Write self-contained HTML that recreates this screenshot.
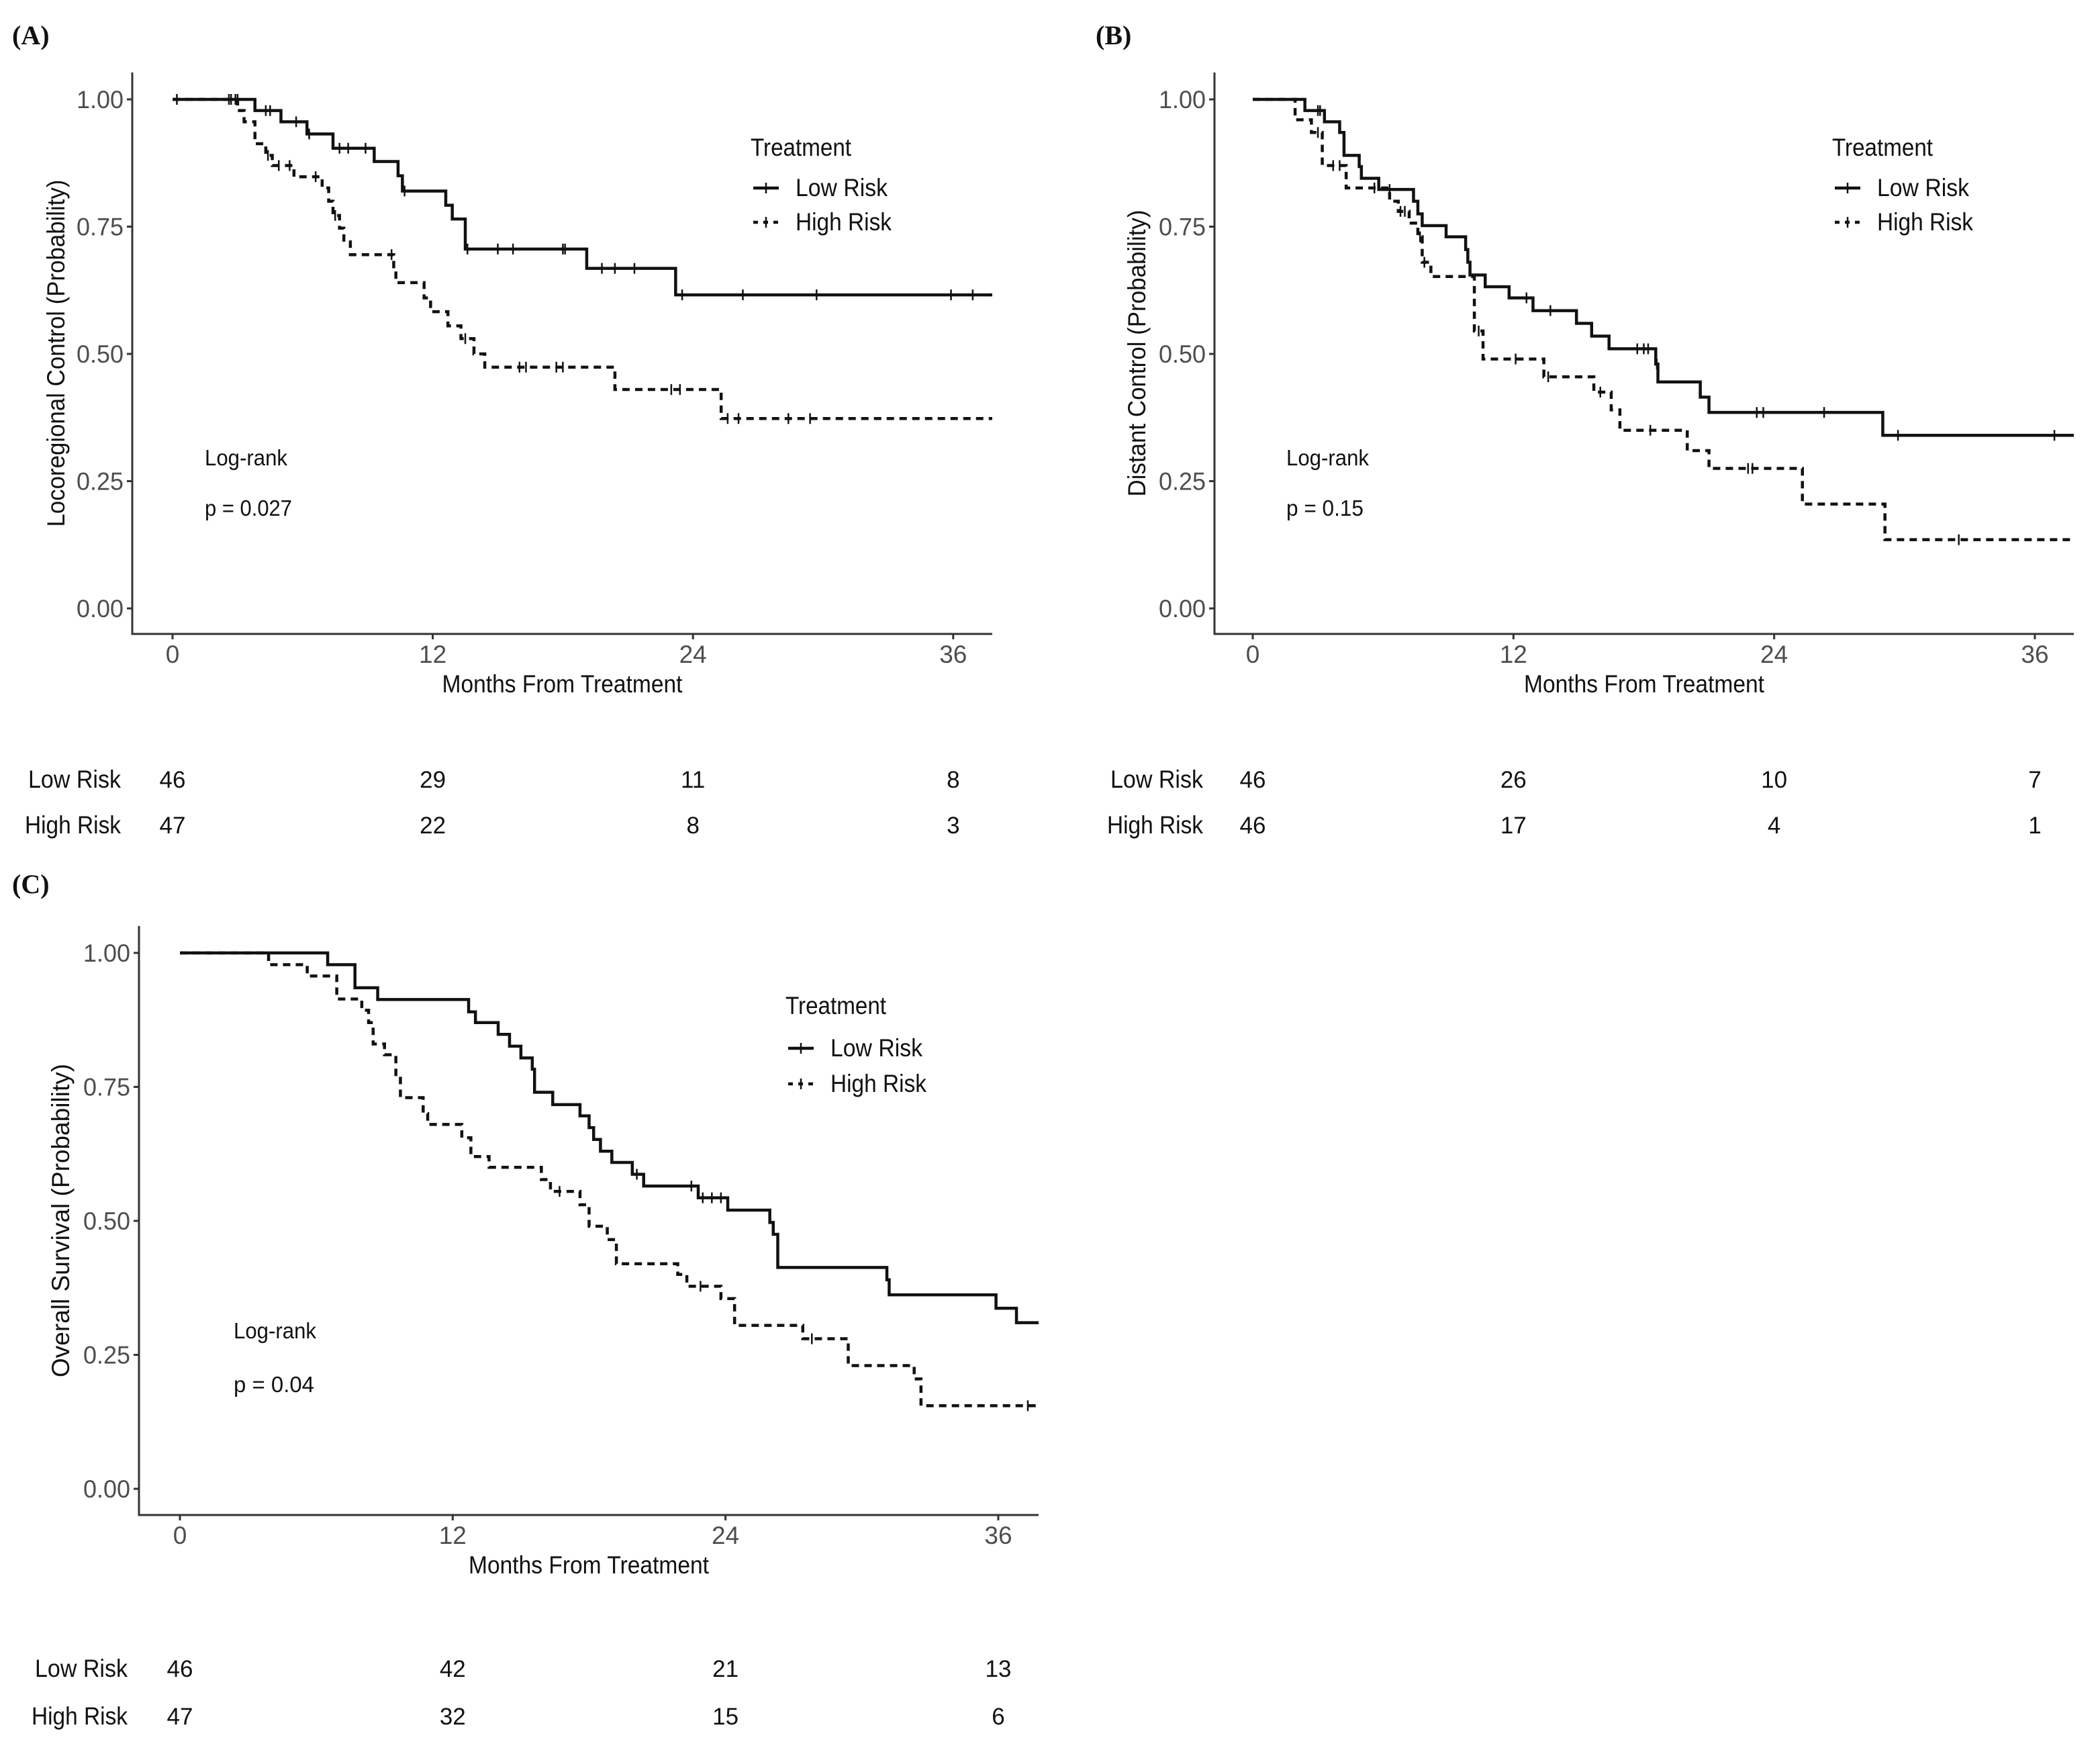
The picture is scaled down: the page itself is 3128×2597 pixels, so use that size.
<!DOCTYPE html>
<html><head><meta charset="utf-8">
<style>
html,body{margin:0;padding:0;background:#fff;overflow:hidden;}
svg{display:block;}
text{font-family:"Liberation Sans Narrow","Liberation Sans",sans-serif;}
</style></head>
<body>
<svg id="fig" xmlns="http://www.w3.org/2000/svg" width="3128" height="2597" viewBox="0 0 3128 2597"></svg>
<script>
// ===== Panel A data (Locoregional control) =====
const aLowTimes = [0,3.8,5.0,6.2,7.4,9.3,10.4,10.6,12.6,12.9,13.5,19.1,23.2];
const aLowSurv  = [1.0,0.978,0.956,0.932,0.904,0.878,0.850,0.820,0.792,0.765,0.706,0.668,0.616];
const aLowCens  = [0.2,2.6,3.0,4.3,4.5,5.7,6.3,7.7,8.1,8.9,10.7,13.6,15.0,15.7,18.0,18.1,19.8,20.4,21.3,23.5,26.3,29.7,35.9,36.9];
const aHighTimes = [0,3.0,3.3,3.8,4.3,4.6,5.6,6.9,7.2,7.4,7.7,7.9,8.2,10.2,10.3,11.6,11.9,12.7,13.3,13.9,14.4,20.4,25.3];
const aHighSurv  = [1.0,0.978,0.956,0.913,0.890,0.870,0.848,0.826,0.800,0.772,0.747,0.720,0.695,0.667,0.640,0.610,0.583,0.555,0.530,0.500,0.474,0.430,0.373];
const aHighCens  = [2.7,2.9,4.4,4.9,5.4,6.6,7.5,10.1,13.5,16.0,16.3,17.7,18.0,23.0,23.4,25.6,26.1,28.4,29.4];
const aRiskLow = [46,29,11,8];
const aRiskHigh = [47,22,8,3];
// ===== Panel B data (Distant control) =====
const bLowTimes = [0,2.4,3.3,4.0,4.2,4.9,5.0,5.8,7.4,7.6,7.8,8.9,9.8,9.9,10.0,10.7,11.8,12.9,14.9,15.6,16.4,18.55,18.65,20.6,21.0,29.0];
const bLowSurv  = [1.0,0.978,0.956,0.935,0.890,0.868,0.845,0.823,0.800,0.775,0.752,0.730,0.705,0.680,0.655,0.632,0.610,0.585,0.560,0.535,0.510,0.480,0.445,0.415,0.385,0.340];
const bLowCens  = [3.0,3.1,6.3,12.6,13.7,17.7,18.0,18.2,18.6,23.2,23.5,26.3,29.7,36.9];
const bHighTimes = [0,1.95,2.7,3.2,4.3,6.3,6.7,7.2,7.6,7.8,8.2,10.2,10.6,13.4,15.7,16.5,16.9,20.0,21.0,25.3,29.1];
const bHighSurv  = [1.0,0.960,0.935,0.870,0.826,0.800,0.780,0.757,0.730,0.680,0.652,0.545,0.490,0.455,0.425,0.390,0.350,0.310,0.275,0.205,0.135];
const bHighCens  = [3.0,3.7,4.0,5.6,6.8,7.0,7.7,7.9,10.4,12.1,13.6,16.0,18.3,22.8,23.0,32.5];
const bRiskLow = [46,26,10,7];
const bRiskHigh = [46,17,4,1];
// ===== Panel C data (Overall survival) =====
const cLowTimes = [0,6.5,7.7,8.7,12.7,13.0,14.0,14.5,15.0,15.5,15.6,16.4,17.6,18.0,18.2,18.5,19.0,19.9,20.4,22.8,24.1,25.95,26.1,26.3,31.1,31.2,35.9,36.8];
const cLowSurv  = [1.0,0.978,0.935,0.913,0.890,0.870,0.848,0.826,0.804,0.783,0.740,0.717,0.696,0.674,0.652,0.630,0.609,0.587,0.565,0.543,0.520,0.497,0.475,0.413,0.390,0.362,0.337,0.310];
const cLowCens  = [20.1,22.5,23.0,23.4,23.8];
const cHighTimes = [0,3.9,5.6,6.9,8.0,8.3,8.5,9.0,9.5,9.7,10.7,10.9,12.4,12.8,13.6,15.9,16.3,17.6,18.0,18.8,19.2,21.9,22.3,23.8,24.4,27.4,29.4,32.3,32.6];
const cHighSurv  = [1.0,0.978,0.957,0.914,0.893,0.870,0.830,0.810,0.770,0.730,0.700,0.680,0.655,0.620,0.600,0.577,0.555,0.530,0.490,0.465,0.420,0.400,0.378,0.355,0.305,0.280,0.230,0.205,0.155];
const cHighCens  = [16.7,22.9,27.8,37.3];
const cRiskLow = [46,42,21,13];
const cRiskHigh = [47,32,15,6];
const xTicks = [0,12,24,36];
const yTicks = [0,0.25,0.5,0.75,1.0];
const yTickLabels = ["0.00","0.25","0.50","0.75","1.00"];

const NS="http://www.w3.org/2000/svg";
const svg=document.getElementById('fig');
const FS=37;
function mk(tag,attrs,parent){const e=document.createElementNS(NS,tag);for(const k in attrs)e.setAttribute(k,attrs[k]);(parent||svg).appendChild(e);return e;}
function txt(parent,x,y,s,size,fill,anchor,len){
  const e=mk('text',{x:x,y:y,'font-size':size,fill:fill,'text-anchor':anchor||'start'},parent);
  if(len){e.setAttribute('textLength',len);e.setAttribute('lengthAdjust','spacingAndGlyphs');}
  e.textContent=s;return e;
}

function panel(cfg){
  const g=mk('g',{});
  
  
  const sx=t=>cfg.ox+t*cfg.pxm;
  const sy=v=>cfg.y0-(cfg.y0-cfg.y1)*v;
  const pl=mk('text',{x:cfg.labX,y:cfg.labY,'font-size':40,'font-weight':'bold',fill:'#111',style:'font-family:"Liberation Serif",serif'},g);
  pl.textContent=cfg.label;
  
  
  const ax=mk('path',{d:`M${cfg.axX},${cfg.top} V${cfg.bottom} H${cfg.xEnd}`,stroke:'#333',fill:'none','stroke-width':3},g);
  
  
  yTicks.forEach((v,i)=>{
    mk('line',{x1:cfg.axX-8,x2:cfg.axX,y1:sy(v),y2:sy(v),stroke:'#333','stroke-width':3},g);
    const t=txt(g,cfg.axX-13,sy(v)+13,yTickLabels[i],FS,'#4d4d4d','end',70);
    
    
  });
  xTicks.forEach(v=>{
    mk('line',{x1:sx(v),x2:sx(v),y1:cfg.bottom,y2:cfg.bottom+8,stroke:'#333','stroke-width':3},g);
    const t=txt(g,sx(v),cfg.bottom+43,String(v),FS,'#4d4d4d','middle');
    
    
  });
  const xt=txt(g,(cfg.axX+cfg.xEnd)/2,cfg.bottom+87,'Months From Treatment',FS,'#111','middle',358);
  
  
  const cy=(cfg.top+cfg.bottom)/2;
  const yt=txt(g,0,0,cfg.ytitle,FS,'#111','middle',cfg.ytLen);
  yt.setAttribute('transform',`translate(${cfg.ytX},${cy}) rotate(-90)`);
  
  
  function curve(times,surv,cens,dashed,nm){
    let d=`M${sx(times[0])},${sy(surv[0])}`;
    for(let i=1;i<times.length;i++){d+=` H${sx(times[i])} V${sy(surv[i])}`;}
    d+=` H${cfg.xEnd}`;
    const p=mk('path',{d:d,fill:'none',stroke:'#111','stroke-width':4.5},g);
    if(dashed)p.setAttribute('stroke-dasharray','11,8');
    
    
    cens.forEach(t=>{
      let k=0;for(let i=0;i<times.length;i++)if(times[i]<=t)k=i;
      const c=mk('line',{x1:sx(t),x2:sx(t),y1:sy(surv[k])-8,y2:sy(surv[k])+8,stroke:'#111','stroke-width':2.5},g);
      
      
    });
  }
  curve(cfg.hiT,cfg.hiS,cfg.hiC,true,'high-risk');
  curve(cfg.loT,cfg.loS,cfg.loC,false,'low-risk');
  const lg=mk('g',{},g);
  
  
  txt(lg,cfg.legX,cfg.legY,'Treatment',FS,'#111','start',150);
  const l1=cfg.legY+cfg.legGap,l2=l1+cfg.legGap2;
  mk('line',{x1:cfg.legX+4,x2:cfg.legX+42,y1:l1-12,y2:l1-12,stroke:'#111','stroke-width':4.5},lg);
  mk('line',{x1:cfg.legX+23,x2:cfg.legX+23,y1:l1-20,y2:l1-4,stroke:'#111','stroke-width':2.5},lg);
  mk('line',{x1:cfg.legX+4,x2:cfg.legX+42,y1:l2-12,y2:l2-12,stroke:'#111','stroke-width':4.5,'stroke-dasharray':'7,8'},lg);
  mk('line',{x1:cfg.legX+23,x2:cfg.legX+23,y1:l2-20,y2:l2-4,stroke:'#111','stroke-width':2.5},lg);
  const e1=txt(lg,cfg.legX+67,l1,'Low Risk',FS,'#111','start',137);
  
  
  const e2=txt(lg,cfg.legX+67,l2,'High Risk',FS,'#111','start',143);
  
  
  const a1=txt(g,cfg.lrX,cfg.lrY,'Log-rank',33,'#111','start',123);
  
  
  const a2=txt(g,cfg.lrX,cfg.lrY+cfg.lrGap,cfg.p,33,'#111','start',cfg.pLen);
  
  
  const rt=mk('g',{},g);
  
  
  txt(rt,cfg.rtX,cfg.rtY,'Low Risk',FS,'#111','end',138);
  txt(rt,cfg.rtX,cfg.rtY+cfg.rtGap,'High Risk',FS,'#111','end',143);
  xTicks.forEach((v,i)=>{
    txt(rt,sx(v),cfg.rtY,String(cfg.rl[i]),35,'#111','middle');
    txt(rt,sx(v),cfg.rtY+cfg.rtGap,String(cfg.rh[i]),35,'#111','middle');
  });
}

panel({name:'panel-a',label:'(A)',labX:18,labY:66,ox:257,pxm:32.3,y1:148,y0:906,axX:197,top:108,bottom:944,xEnd:1478,
  ytitle:'Locoregional Control (Probability)',ytLen:517,ytX:96,
  loT:aLowTimes,loS:aLowSurv,loC:aLowCens,hiT:aHighTimes,hiS:aHighSurv,hiC:aHighCens,
  legX:1118,legY:232,legGap:60,legGap2:51,lrX:305,lrY:693,lrGap:75,p:'p = 0.027',pLen:130,rtX:180,rtY:1173,rtGap:68,rl:aRiskLow,rh:aRiskHigh});
panel({name:'panel-b',label:'(B)',labX:1632,labY:66,ox:1866,pxm:32.36,y1:148,y0:906,axX:1809,top:108,bottom:944,xEnd:3089,
  ytitle:'Distant Control (Probability)',ytLen:427,ytX:1706,
  loT:bLowTimes,loS:bLowSurv,loC:bLowCens,hiT:bHighTimes,hiS:bHighSurv,hiC:bHighCens,
  legX:2729,legY:232,legGap:60,legGap2:51,lrX:1916,lrY:693,lrGap:75,p:'p = 0.15',pLen:115,rtX:1792,rtY:1173,rtGap:68,rl:bRiskLow,rh:bRiskHigh});
panel({name:'panel-c',label:'(C)',labX:18,labY:1330,ox:268,pxm:33.86,y1:1419,y0:2217,axX:207,top:1379,bottom:2256,xEnd:1547,
  ytitle:'Overall Survival (Probability)',ytLen:467,ytX:103,
  loT:cLowTimes,loS:cLowSurv,loC:cLowCens,hiT:cHighTimes,hiS:cHighSurv,hiC:cHighCens,
  legX:1170,legY:1510,legGap:63,legGap2:53,lrX:348,lrY:1993,lrGap:80,p:'p = 0.04',pLen:120,rtX:190,rtY:2497,rtGap:71,rl:cRiskLow,rh:cRiskHigh});
</script>
</body></html>
